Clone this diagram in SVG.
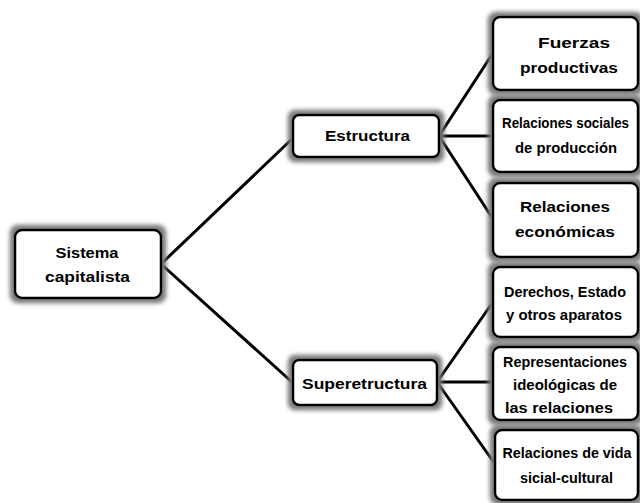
<svg xmlns="http://www.w3.org/2000/svg" width="640" height="503" viewBox="0 0 640 503">
<defs>
<filter id="glow" x="-20%" y="-30%" width="140%" height="160%">
<feMorphology in="SourceAlpha" operator="dilate" radius="4" result="d"/>
<feGaussianBlur in="d" stdDeviation="2" result="b"/>
<feFlood flood-color="#7a7a7a"/>
<feComposite in2="b" operator="in" result="g"/>
<feMerge><feMergeNode in="g"/><feMergeNode in="SourceGraphic"/></feMerge>
</filter>
</defs>
<style>
.box{fill:#fff;stroke:#000;stroke-width:2.5;filter:url(#glow)}
.t{font-family:"Liberation Sans",Arial,sans-serif;font-weight:bold;font-size:15px;fill:#000;text-anchor:middle}
.c{stroke:#000;stroke-width:3;fill:none;stroke-linecap:round}
</style>
<g id="connectors">
<path class="c" d="M161,264 L293,138 M161,264 L293,383"/>
<path class="c" d="M439,136 L493,53 M439,136 L493,136 M439,136 L493,219"/>
<path class="c" d="M437,382 L493,302 M437,382 L493,382 M437,382 L495,464"/>
</g>
<g id="sistema">
<rect class="box" x="15" y="230" width="146" height="68" rx="7"/>
<text class="t" x="87" y="258" textLength="63" lengthAdjust="spacingAndGlyphs">Sistema</text>
<text class="t" x="87.5" y="282" textLength="85" lengthAdjust="spacingAndGlyphs">capitalista</text>
</g>
<g id="estructura">
<rect class="box" x="293" y="115" width="146" height="42" rx="6"/>
<text class="t" x="367.5" y="141" textLength="85" lengthAdjust="spacingAndGlyphs">Estructura</text>
</g>
<g id="superetructura">
<rect class="box" x="293" y="360" width="144" height="45" rx="6"/>
<text class="t" x="364.5" y="389" textLength="125" lengthAdjust="spacingAndGlyphs">Superetructura</text>
</g>
<g id="fuerzas">
<rect class="box" x="493" y="17" width="145" height="73" rx="7"/>
<text class="t" x="574" y="48" textLength="72" lengthAdjust="spacingAndGlyphs">Fuerzas</text>
<text class="t" x="569" y="73" textLength="98" lengthAdjust="spacingAndGlyphs">productivas</text>
</g>
<g id="relsociales">
<rect class="box" x="493" y="100" width="145" height="72" rx="7"/>
<text class="t" x="565.5" y="128" font-size="13.5" textLength="127" lengthAdjust="spacingAndGlyphs">Relaciones sociales</text>
<text class="t" x="566" y="153" textLength="102" lengthAdjust="spacingAndGlyphs">de producción</text>
</g>
<g id="releconomicas">
<rect class="box" x="493" y="183" width="145" height="74" rx="7"/>
<text class="t" x="565" y="212" textLength="90" lengthAdjust="spacingAndGlyphs">Relaciones</text>
<text class="t" x="565" y="237" textLength="100" lengthAdjust="spacingAndGlyphs">económicas</text>
</g>
<g id="derechos">
<rect class="box" x="493" y="267" width="145" height="70" rx="7"/>
<text class="t" x="565" y="297" textLength="122" lengthAdjust="spacingAndGlyphs">Derechos, Estado</text>
<text class="t" x="564" y="320" textLength="116" lengthAdjust="spacingAndGlyphs">y otros aparatos</text>
</g>
<g id="representaciones">
<rect class="box" x="493" y="347" width="145" height="73" rx="7"/>
<text class="t" x="565" y="367" textLength="124" lengthAdjust="spacingAndGlyphs">Representaciones</text>
<text class="t" x="565" y="390" textLength="104" lengthAdjust="spacingAndGlyphs">ideológicas de</text>
<text class="t" x="559" y="413" textLength="108" lengthAdjust="spacingAndGlyphs">las relaciones</text>
</g>
<g id="relvida">
<rect class="box" x="495" y="430" width="143" height="70" rx="7"/>
<text class="t" x="567" y="458" textLength="129" lengthAdjust="spacingAndGlyphs">Relaciones de vida</text>
<text class="t" x="566.5" y="483" textLength="93" lengthAdjust="spacingAndGlyphs">sicial-cultural</text>
</g>
</svg>
